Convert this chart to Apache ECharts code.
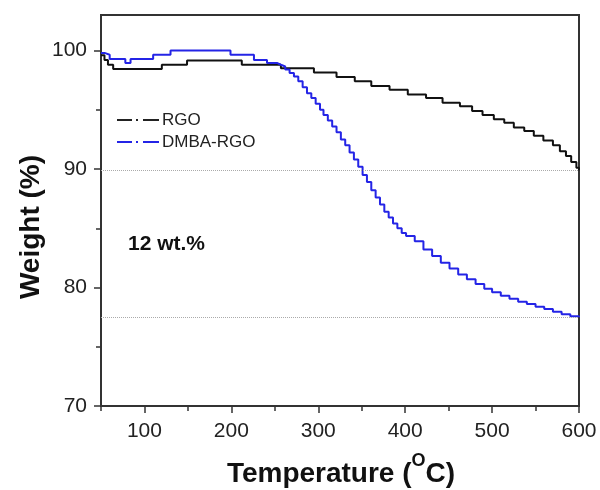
<!DOCTYPE html>
<html>
<head>
<meta charset="utf-8">
<script src="https://cdn.jsdelivr.net/npm/echarts@6/dist/echarts.min.js"></script>
<style>html,body{margin:0;padding:0;background:#fff;}#c{width:600px;height:490px;}</style>
</head>
<body>
<div id="c"></div>
<script>
// Temperature (°C), Weight (%) – stepped TGA curves
const rgoData = [
  [50, 99.6], [54, 99.2], [58, 98.8], [64, 98.45], [120, 98.8], [149, 99.15],
  [212, 98.8], [257, 98.5], [295, 98.15], [321, 97.76], [342, 97.4], [361, 97.0],
  [382, 96.7], [403, 96.3], [424, 96.0], [443, 95.6], [463, 95.3], [477, 94.9],
  [489, 94.56], [502, 94.2], [514, 93.9], [525, 93.5], [537, 93.2], [548, 92.8],
  [559, 92.4], [570, 92.0], [578, 91.5], [585, 91.1], [591, 90.6], [597, 90.1], [600, 89.9]
];
const dmbaData = [
  [50, 99.8], [54, 99.65], [60, 99.28], [78, 98.94], [84, 99.28], [110, 99.65],
  [130, 100.0], [199, 99.65], [226, 99.2], [241, 98.94], [253, 98.8],
  [257, 98.65], [262, 98.4], [267, 98.1], [272, 97.8], [277, 97.4], [282, 96.9],
  [287, 96.4], [292, 96.0], [297, 95.5], [302, 95.0], [306, 94.55], [311, 94.1],
  [316, 93.6], [321, 93.1], [326, 92.5], [331, 92.0], [336, 91.4], [341, 90.8],
  [346, 90.2], [351, 89.5], [356, 88.9], [361, 88.2], [366, 87.6], [371, 87.0],
  [376, 86.4], [381, 85.9], [386, 85.4], [391, 85.0], [396, 84.6], [401, 84.35],
  [411, 83.9], [421, 83.2], [431, 82.65], [441, 82.1], [451, 81.6], [461, 81.1],
  [471, 80.7], [481, 80.3], [491, 79.9], [500, 79.6], [510, 79.3], [520, 79.05],
  [530, 78.8], [540, 78.6], [550, 78.38], [560, 78.18], [570, 77.95], [580, 77.75],
  [590, 77.58], [600, 77.5]
];
const refLines = [89.9, 77.5];
const xMajorTicks = [100, 200, 300, 400, 500, 600];
const xMinorTicks = [50, 150, 250, 350, 450, 550];
const yMajorTicks = [70, 80, 90, 100];
const yMinorTicks = [75, 85, 95];
const annotation = '12 wt.%';
const xTitleParts = ['Temperature (', 'O', 'C)'];
const yTitle = 'Weight (%)';

const FONT = 'Liberation Sans, Arial, sans-serif';
const AX = '#333';

// measure the x-axis title pieces so the superscript can be placed
const mctx = document.createElement('canvas').getContext('2d');
function tw(t, size) { mctx.font = 'bold ' + size + 'px ' + FONT; return mctx.measureText(t).width; }
const w1 = tw(xTitleParts[0], 28), w2 = tw(xTitleParts[1], 18), w3 = tw(xTitleParts[2], 28);
const tx0 = 341 - (w1 + w2 + w3) / 2;
const titleStyle = { fontFamily: FONT, fontWeight: 'bold', fill: '#111', verticalAlign: 'middle', align: 'left' };

const chart = echarts.init(document.getElementById('c'));
const baseX = { type: 'value', min: 50, max: 600, position: 'bottom', splitLine: { show: false } };
const baseY = { type: 'value', min: 70, max: 103, position: 'left', splitLine: { show: false } };
const dashDotIcon = 'path://M0 0H15V2H0Z M19 0H21V2H19Z M26 0H42V2H26Z';
chart.setOption({
  animation: false,
  backgroundColor: '#fff',
  grid: { left: 101, right: 21, top: 15, bottom: 84, show: true, borderColor: AX, borderWidth: 2, backgroundColor: 'transparent' },
  legend: {
    left: 117, top: 111, orient: 'vertical', itemGap: 4, itemWidth: 42, itemHeight: 2, padding: 0,
    icon: dashDotIcon,
    textStyle: { fontFamily: FONT, fontSize: 17, color: '#222', lineHeight: 18, padding: [0, 0, 0, -2] },
    data: ['RGO', 'DMBA-RGO']
  },
  xAxis: [
    Object.assign({}, baseX, {
      axisLine: { show: true, lineStyle: { color: AX, width: 2 } },
      axisTick: { show: true, length: 7, customValues: xMajorTicks, lineStyle: { color: AX, width: 1.5 } },
      axisLabel: { customValues: xMajorTicks, margin: 15, fontFamily: FONT, fontSize: 21, color: '#222' }
    }),
    Object.assign({}, baseX, {
      axisLine: { show: false },
      axisTick: { show: true, length: 5, customValues: xMinorTicks, lineStyle: { color: AX, width: 1.5 } },
      axisLabel: { show: false }
    })
  ],
  yAxis: [
    Object.assign({}, baseY, {
      axisLine: { show: true, lineStyle: { color: AX, width: 2 } },
      axisTick: { show: true, length: 7, customValues: yMajorTicks, lineStyle: { color: AX, width: 1.5 } },
      axisLabel: { customValues: yMajorTicks, margin: 14, fontFamily: FONT, fontSize: 21, color: '#222' }
    }),
    Object.assign({}, baseY, {
      axisLine: { show: false },
      axisTick: { show: true, length: 5, customValues: yMinorTicks, lineStyle: { color: AX, width: 1.5 } },
      axisLabel: { show: false }
    })
  ],
  graphic: [
    {
      type: 'text', x: 128, y: 234,
      style: { text: annotation, fontFamily: FONT, fontSize: 21, fontWeight: 'bold', fill: '#111' }
    },
    {
      type: 'text', x: 31, y: 227, rotation: Math.PI / 2,
      style: { text: yTitle, x: 0, y: 0, align: 'center', verticalAlign: 'middle',
        fontFamily: FONT, fontSize: 28, fontWeight: 'bold', fill: '#111' }
    },
    { type: 'text', x: tx0, y: 474, style: Object.assign({ text: xTitleParts[0], fontSize: 28 }, titleStyle) },
    { type: 'text', x: tx0 + w1, y: 461, style: Object.assign({ text: xTitleParts[1], fontSize: 18 }, titleStyle) },
    { type: 'text', x: tx0 + w1 + w2, y: 474, style: Object.assign({ text: xTitleParts[2], fontSize: 28 }, titleStyle) }
  ],
  series: [
    {
      name: 'RGO', type: 'line', step: 'end', data: rgoData, symbol: 'none',
      lineStyle: { color: '#111', width: 2 }, itemStyle: { color: '#222' }, z: 3,
      markLine: {
        silent: true, symbol: 'none', label: { show: false },
        lineStyle: { color: '#aaa', type: 'dotted', width: 1 },
        data: refLines.map(v => ({ yAxis: v }))
      }
    },
    {
      name: 'DMBA-RGO', type: 'line', step: 'end', data: dmbaData, symbol: 'none',
      lineStyle: { color: '#2424e6', width: 2 }, itemStyle: { color: '#2424e6' }, z: 4
    }
  ]
});
</script>
</body>
</html>
